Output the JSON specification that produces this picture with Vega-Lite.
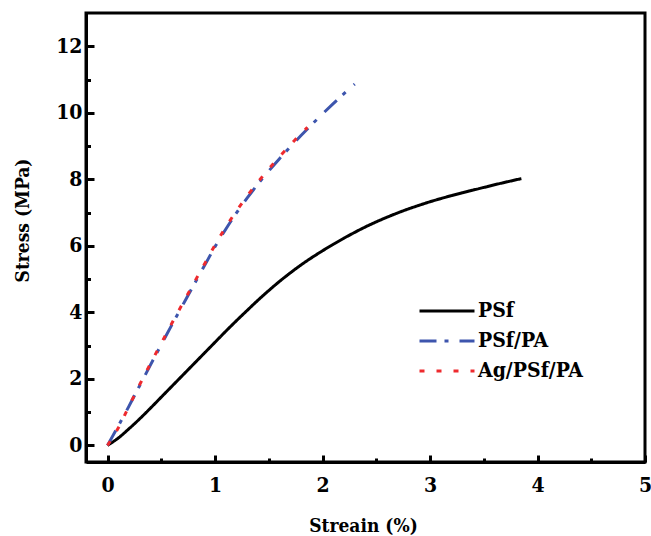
{
  "$schema": "https://vega.github.io/schema/vega-lite/v6.json",
  "width": 559,
  "height": 449,
  "autosize": {"type": "none"},
  "padding": {"left": 86, "top": 13, "right": 6, "bottom": 74},
  "background": "white",
  "config": {
    "view": {"stroke": "black", "strokeWidth": 3},
    "axis": {"grid": false}
  },
  "data": {
    "values": [
      {"s": "PSf", "x": 0, "y": 0},
      {"s": "PSf", "x": 0.1, "y": 0.22},
      {"s": "PSf", "x": 0.2, "y": 0.5},
      {"s": "PSf", "x": 0.3, "y": 0.8},
      {"s": "PSf", "x": 0.4, "y": 1.12},
      {"s": "PSf", "x": 0.5, "y": 1.45},
      {"s": "PSf", "x": 0.6, "y": 1.78},
      {"s": "PSf", "x": 0.7, "y": 2.11},
      {"s": "PSf", "x": 0.8, "y": 2.44},
      {"s": "PSf", "x": 0.9, "y": 2.77},
      {"s": "PSf", "x": 1.0, "y": 3.1},
      {"s": "PSf", "x": 1.1, "y": 3.43},
      {"s": "PSf", "x": 1.2, "y": 3.75},
      {"s": "PSf", "x": 1.3, "y": 4.06},
      {"s": "PSf", "x": 1.4, "y": 4.365},
      {"s": "PSf", "x": 1.5, "y": 4.655},
      {"s": "PSf", "x": 1.6, "y": 4.93},
      {"s": "PSf", "x": 1.7, "y": 5.185},
      {"s": "PSf", "x": 1.8, "y": 5.425},
      {"s": "PSf", "x": 1.9, "y": 5.645},
      {"s": "PSf", "x": 2.0, "y": 5.85},
      {"s": "PSf", "x": 2.1, "y": 6.045},
      {"s": "PSf", "x": 2.2, "y": 6.23},
      {"s": "PSf", "x": 2.3, "y": 6.405},
      {"s": "PSf", "x": 2.4, "y": 6.57},
      {"s": "PSf", "x": 2.5, "y": 6.72},
      {"s": "PSf", "x": 2.6, "y": 6.86},
      {"s": "PSf", "x": 2.7, "y": 6.99},
      {"s": "PSf", "x": 2.8, "y": 7.11},
      {"s": "PSf", "x": 2.9, "y": 7.22},
      {"s": "PSf", "x": 3.0, "y": 7.325},
      {"s": "PSf", "x": 3.1, "y": 7.42},
      {"s": "PSf", "x": 3.2, "y": 7.51},
      {"s": "PSf", "x": 3.3, "y": 7.595},
      {"s": "PSf", "x": 3.4, "y": 7.675},
      {"s": "PSf", "x": 3.5, "y": 7.755},
      {"s": "PSf", "x": 3.6, "y": 7.835},
      {"s": "PSf", "x": 3.7, "y": 7.91},
      {"s": "PSf", "x": 3.8, "y": 7.985},
      {"s": "PSf", "x": 3.85, "y": 8.02},
      {"s": "PSf/PA", "x": 0, "y": 0},
      {"s": "PSf/PA", "x": 0.1, "y": 0.58},
      {"s": "PSf/PA", "x": 0.2, "y": 1.18},
      {"s": "PSf/PA", "x": 0.3, "y": 1.8},
      {"s": "PSf/PA", "x": 0.4, "y": 2.42},
      {"s": "PSf/PA", "x": 0.5, "y": 3.03},
      {"s": "PSf/PA", "x": 0.6, "y": 3.63},
      {"s": "PSf/PA", "x": 0.7, "y": 4.22},
      {"s": "PSf/PA", "x": 0.8, "y": 4.81},
      {"s": "PSf/PA", "x": 0.9, "y": 5.39},
      {"s": "PSf/PA", "x": 1.0, "y": 5.97},
      {"s": "PSf/PA", "x": 1.1, "y": 6.5},
      {"s": "PSf/PA", "x": 1.2, "y": 6.99},
      {"s": "PSf/PA", "x": 1.3, "y": 7.44},
      {"s": "PSf/PA", "x": 1.4, "y": 7.86},
      {"s": "PSf/PA", "x": 1.5, "y": 8.25},
      {"s": "PSf/PA", "x": 1.6, "y": 8.62},
      {"s": "PSf/PA", "x": 1.7, "y": 8.975},
      {"s": "PSf/PA", "x": 1.8, "y": 9.315},
      {"s": "PSf/PA", "x": 1.9, "y": 9.645},
      {"s": "PSf/PA", "x": 2.0, "y": 9.965},
      {"s": "PSf/PA", "x": 2.1, "y": 10.275},
      {"s": "PSf/PA", "x": 2.2, "y": 10.575},
      {"s": "PSf/PA", "x": 2.3, "y": 10.865},
      {"s": "Ag/PSf/PA", "x": 0, "y": 0},
      {"s": "Ag/PSf/PA", "x": 0.1, "y": 0.52},
      {"s": "Ag/PSf/PA", "x": 0.2, "y": 1.18},
      {"s": "Ag/PSf/PA", "x": 0.3, "y": 1.83},
      {"s": "Ag/PSf/PA", "x": 0.4, "y": 2.46},
      {"s": "Ag/PSf/PA", "x": 0.5, "y": 3.07},
      {"s": "Ag/PSf/PA", "x": 0.6, "y": 3.68},
      {"s": "Ag/PSf/PA", "x": 0.7, "y": 4.27},
      {"s": "Ag/PSf/PA", "x": 0.8, "y": 4.86},
      {"s": "Ag/PSf/PA", "x": 0.9, "y": 5.44},
      {"s": "Ag/PSf/PA", "x": 1.0, "y": 6.02},
      {"s": "Ag/PSf/PA", "x": 1.1, "y": 6.56},
      {"s": "Ag/PSf/PA", "x": 1.2, "y": 7.05},
      {"s": "Ag/PSf/PA", "x": 1.3, "y": 7.5},
      {"s": "Ag/PSf/PA", "x": 1.4, "y": 7.92},
      {"s": "Ag/PSf/PA", "x": 1.5, "y": 8.31},
      {"s": "Ag/PSf/PA", "x": 1.6, "y": 8.68},
      {"s": "Ag/PSf/PA", "x": 1.7, "y": 9.03},
      {"s": "Ag/PSf/PA", "x": 1.8, "y": 9.37},
      {"s": "Ag/PSf/PA", "x": 1.86, "y": 9.56}
    ]
  },
  "layer": [
    {
      "mark": {"type": "line", "strokeWidth": 3, "interpolate": "monotone", "strokeCap": "butt"},
      "encoding": {
        "x": {
          "field": "x", "type": "quantitative",
          "scale": {"domain": [-0.2, 5], "nice": false, "zero": false},
          "axis": {
            "orient": "bottom",
            "values": [0, 1, 2, 3, 4, 5],
            "format": "d",
            "title": "Streain (%)",
            "titleFont": "DejaVu Serif Condensed, DejaVu Serif", "titleFontSize": 19, "titleFontWeight": "bold", "titleColor": "black",
            "titleX": 277, "titleY": 69, "titleBaseline": "alphabetic", "titleAlign": "center", "titleAnchor": null,
            "labelFont": "DejaVu Serif Condensed, DejaVu Serif", "labelFontSize": 21, "labelFontWeight": "bold", "labelColor": "black",
            "labelPadding": 19,
            "domainColor": "black", "domainWidth": 3,
            "tickColor": "black", "tickWidth": 3, "tickSize": -7,
            "labelFlush": false, "labelOverlap": false
          }
        },
        "y": {
          "field": "y", "type": "quantitative",
          "scale": {"domain": [-0.5, 13], "nice": false, "zero": false},
          "axis": {
            "orient": "left",
            "values": [0, 2, 4, 6, 8, 10, 12],
            "format": "d",
            "title": "Stress (MPa)",
            "titleFont": "DejaVu Serif Condensed, DejaVu Serif", "titleFontSize": 19, "titleFontWeight": "bold", "titleColor": "black",
            "titleX": -64, "titleY": 207, "titleAngle": 270, "titleBaseline": "middle", "titleAlign": "center", "titleAnchor": null,
            "labelFont": "DejaVu Serif Condensed, DejaVu Serif", "labelFontSize": 21, "labelFontWeight": "bold", "labelColor": "black",
            "labelPadding": 12,
            "domainColor": "black", "domainWidth": 3,
            "tickColor": "black", "tickWidth": 3, "tickSize": -8,
            "labelFlush": false, "labelOverlap": false
          }
        },
        "color": {
          "field": "s", "type": "nominal",
          "scale": {"domain": ["PSf", "PSf/PA", "Ag/PSf/PA"], "range": ["#000000", "#3d55ad", "#ee2a2e"]},
          "legend": {
            "title": null,
            "orient": "none",
            "legendX": 332,
            "legendY": 283,
            "padding": 0,
            "clipHeight": 30,
            "rowPadding": 0,
            "symbolType": "stroke",
            "symbolSize": 3025,
            "symbolStrokeWidth": 3,
            "labelOffset": 2,
            "labelFont": "DejaVu Serif Condensed, DejaVu Serif", "labelFontSize": 21, "labelFontWeight": "bold", "labelColor": "black",
            "labelLimit": 300
          }
        },
        "strokeDash": {
          "field": "s", "type": "nominal",
          "scale": {"domain": ["PSf", "PSf/PA", "Ag/PSf/PA"], "range": [[1, 0], [17, 8, 4, 11], [5, 12]]},
          "legend": null
        }
      }
    },
    {
      "mark": {"type": "line", "opacity": 0},
      "encoding": {
        "x": {
          "field": "x", "type": "quantitative",
          "scale": {"domain": [-0.2, 5], "nice": false, "zero": false},
          "axis": {
            "orient": "bottom",
            "values": [0.5, 1.5, 2.5, 3.5, 4.5],
            "labels": false, "domain": false, "title": null,
            "tickColor": "black", "tickWidth": 3, "tickSize": -4
          }
        },
        "y": {
          "field": "y", "type": "quantitative",
          "scale": {"domain": [-0.5, 13], "nice": false, "zero": false},
          "axis": {
            "orient": "left",
            "values": [1, 3, 5, 7, 9, 11],
            "labels": false, "domain": false, "title": null,
            "tickColor": "black", "tickWidth": 3, "tickSize": -4.5
          }
        }
      }
    }
  ],
  "resolve": {"axis": {"x": "independent", "y": "independent"}}
}
